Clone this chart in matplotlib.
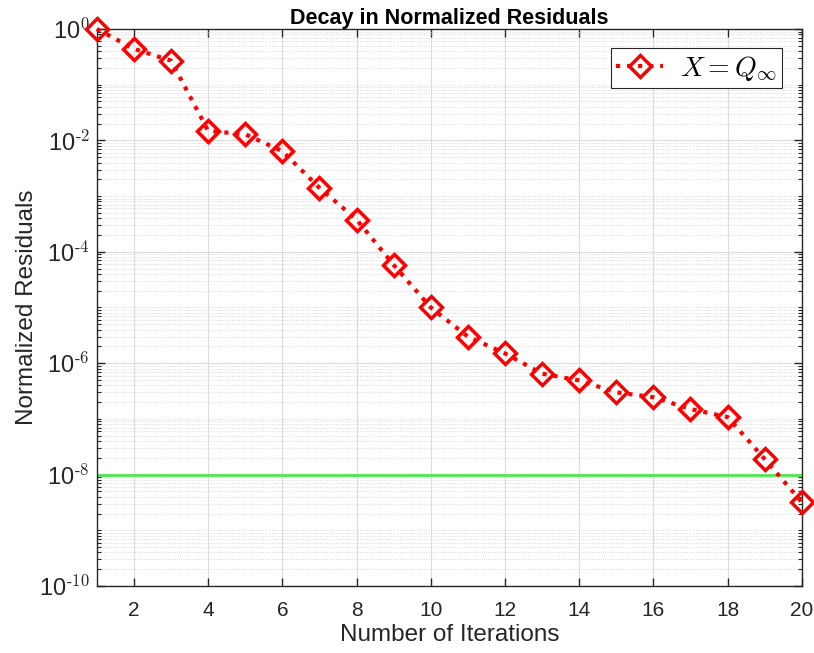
import matplotlib
matplotlib.use("Agg")
import matplotlib.pyplot as plt
from matplotlib.ticker import LogLocator, NullFormatter
import numpy as np

plt.rcParams['font.family'] = ['Liberation Sans', 'DejaVu Sans']
plt.rcParams['mathtext.fontset'] = 'cm'

# residual per iteration
iterations = list(range(1, 21))
residuals = [1.0, 0.44, 0.27, 1.48e-2, 1.29e-2, 6.4e-3, 1.4e-3, 3.8e-4, 5.8e-5, 1.0e-5,
             3.0e-6, 1.5e-6, 6.5e-7, 4.9e-7, 3.0e-7, 2.45e-7, 1.5e-7, 1.08e-7, 1.9e-8, 3.2e-9]
tolerance = 1e-8
x_ticks = list(range(2, 21, 2))
y_ticks = [1e-10, 1e-8, 1e-6, 1e-4, 1e-2, 1e0]
y_exps = ['-10', '-8', '-6', '-4', '-2', '0']

fig = plt.figure(figsize=(8.14, 6.53), dpi=100)
ax = fig.add_axes([0.119, 0.1026, 0.866, 0.853])

ax.axhline(tolerance, color='#4fe64f', linewidth=2, zorder=2)
ax.semilogy(iterations, residuals, linestyle=':', color='red', linewidth=3,
            marker='D', markersize=11, markerfacecolor='none', markeredgewidth=2.5,
            label='$X = Q_\\infty$', zorder=3, clip_on=False)

ax.set_xlim(1, 20)
ax.set_ylim(1e-10, 1e0)
ax.set_xticks(x_ticks)
ax.set_yticks(y_ticks)
ax.set_yticklabels(['10$^{\\mathregular{\\text{%s}}}$' % e for e in y_exps])
ax.yaxis.set_minor_locator(LogLocator(base=10, subs=np.arange(1, 10), numticks=40))
ax.yaxis.set_minor_formatter(NullFormatter())

ax.grid(True, which='major', color='#dcdcdc', linewidth=0.8, linestyle='-')
ax.grid(True, which='minor', axis='y', color='#d0d0d0', linewidth=0.6, linestyle=':')
ax.set_axisbelow(True)

ax.tick_params(which='both', direction='in', top=True, right=True, colors='#262626')
ax.tick_params(which='major', length=6, width=1)
ax.tick_params(which='minor', length=3, width=0.8)
ax.tick_params(axis='x', labelsize=15, pad=11)
ax.tick_params(axis='y', labelsize=17, pad=5)
for s in ax.spines.values():
    s.set_color('#262626')
    s.set_linewidth(1)

ax.set_xlabel('Number of Iterations', fontsize=17.5, color='#262626', labelpad=3)
ax.set_ylabel('Normalized Residuals', fontsize=17.5, color='#262626', labelpad=1)
ax.set_title('Decay in Normalized Residuals', fontsize=15.5, fontweight='bold', pad=3)

leg = ax.legend(loc='upper right', fontsize=20, fancybox=False, framealpha=1,
                edgecolor='#262626', handlelength=1.7, handletextpad=0.6,
                borderaxespad=0.7, borderpad=0.2)
leg.get_frame().set_linewidth(0.8)

fig.savefig('out.png', dpi=100)
